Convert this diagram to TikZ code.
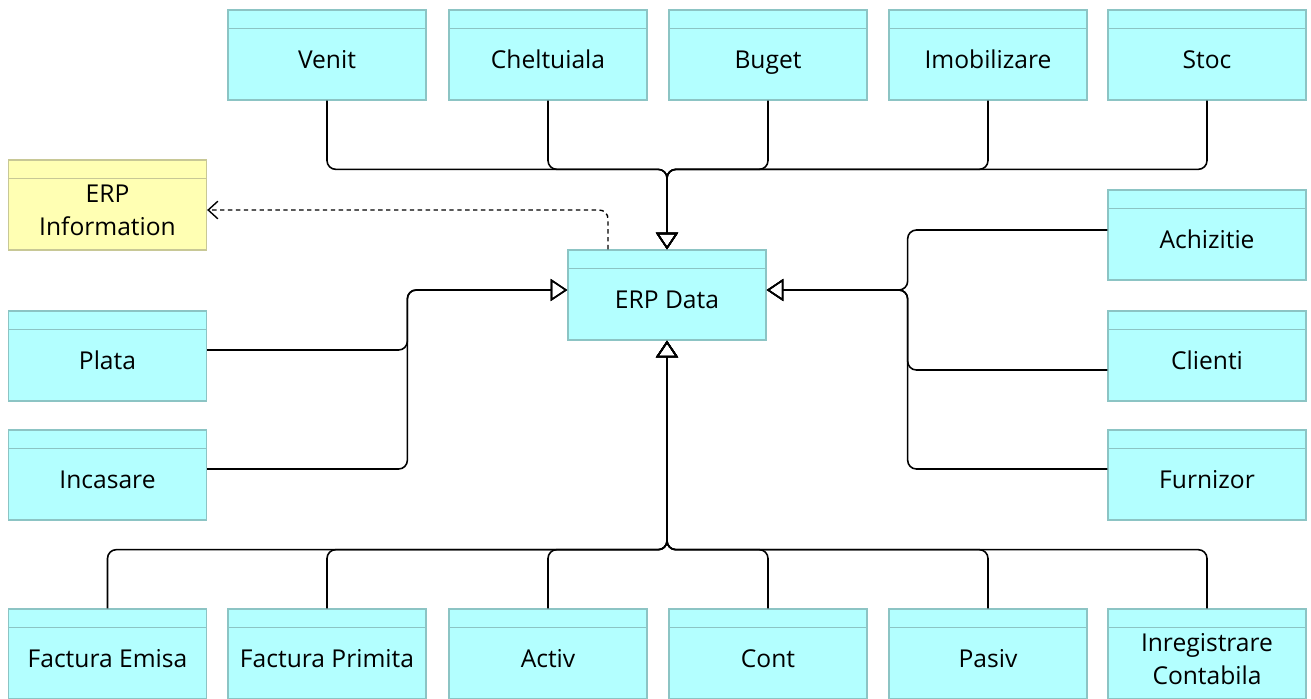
\documentclass[tikz,border=0pt]{standalone}
\usepackage{fontspec}
\setmainfont{Open Sans}
\usetikzlibrary{calc,arrows.meta}
\definecolor{boxfill}{HTML}{B3FFFF}
\definecolor{boxdraw}{HTML}{8CC4C4}
\definecolor{infofill}{HTML}{FFFFB3}
\definecolor{infodraw}{HTML}{C8C896}

\begin{document}
\begin{tikzpicture}[x=0.02cm,y=-0.02cm,
	entity/.style={draw=boxdraw,fill=boxfill,line width=0.75pt,minimum width=3.96cm,minimum height=1.8cm,inner sep=0pt,align=center,text height=1.75em,text depth=0.2em,font=\fontsize{14pt}{19pt}\selectfont},
	twoline/.style={text height=,text depth=,yshift=-3pt},
	info/.style={entity,draw=infodraw,fill=infofill},
	gen/.style={line width=0.9pt,rounded corners=5pt,-{Triangle[open,length=9.5pt,width=12.5pt]}},
	dep/.style={line width=0.8pt,dash pattern=on 2.5pt off 2pt,rounded corners=5pt,-{Straight Barb[length=5.5pt,width=10pt]}}]
		%%%%% START %%%%%
		\useasboundingbox (0,0) rectangle (1311,698);
		
		\node[entity] (venit) at (327,55) {Venit};
		\node[entity] (chelt) at (548,55) {Cheltuiala};
		\node[entity] (buget) at (768,55) {Buget};
		\node[entity] (imob) at (988,55) {Imobilizare};
		\node[entity] (stoc) at (1207,55) {Stoc};
		
		\node[info] (erpinfo) at (107.5,205) {};
		\node[twoline,font=\fontsize{14pt}{19pt}\selectfont,align=center] (erpinfotxt) at (erpinfo.center) {ERP\\Information};
		\node[entity] (erpdata) at (667,295) {ERP Data};
		
		\node[entity] (achiz) at (1207,235) {Achizitie};
		\node[entity] (clienti) at (1207,356) {Clienti};
		\node[entity] (furnizor) at (1207,475) {Furnizor};
		\node[entity] (plata) at (107.5,356) {Plata};
		\node[entity] (incasare) at (107.5,475) {Incasare};
		
		\node[entity] (femisa) at (107.5,654) {Factura Emisa};
		\node[entity] (fprimita) at (327,654) {Factura Primita};
		\node[entity] (activ) at (548,654) {Activ};
		\node[entity] (cont) at (768,654) {Cont};
		\node[entity] (pasiv) at (988,654) {Pasiv};
		\node[entity] (inreg) at (1207,654) {};
		\node[twoline,font=\fontsize{14pt}{19pt}\selectfont,align=center] (inregtxt) at (inreg.center) {Inregistrare\\Contabila};
		
		% header lines
		\foreach \n in {venit,chelt,buget,imob,stoc,erpdata,achiz,clienti,furnizor,plata,incasare,femisa,fprimita,activ,cont,pasiv,inreg}
			\draw[boxdraw,line width=0.75pt] ([yshift=-0.38cm]\n.north west) -- ([yshift=-0.38cm]\n.north east);
		\draw[infodraw,line width=0.75pt] ([yshift=-0.38cm]erpinfo.north west) -- ([yshift=-0.38cm]erpinfo.north east);
		
		\coordinate (dl) at ($(erpdata.west)+(0,-5)$);
		\coordinate (dr) at ($(erpdata.east)+(0,-5)$);
		
		\foreach \n in {venit,chelt,buget,imob,stoc}
			\draw[gen] (\n.south) |- ($(erpdata.north)+(0,-80)$) -- (erpdata.north);
		\foreach \n in {femisa,fprimita,activ,cont,pasiv,inreg}
			\draw[gen] (\n.north) |- ($(erpdata.south)+(0,209)$) -- (erpdata.south);
		
		\draw[gen] ($(plata.east)+(0,-6)$) -| ($(dl)+(-160,0)$) -- (dl);
		\draw[gen] ($(incasare.east)+(0,-6)$) -| ($(dl)+(-160,0)$) -- (dl);
		\draw[gen] ($(achiz.west)+(0,-5)$) -| ($(dr)+(141,0)$) -- (dr);
		\draw[gen] ($(clienti.west)+(0,14)$) -| ($(dr)+(141,0)$) -- (dr);
		\draw[gen] ($(furnizor.west)+(0,-6)$) -| ($(dr)+(141,0)$) -- (dr);
		
		\draw[dep] ($(erpdata.north)+(-59,0)$) |- ($(erpinfo.east)+(0,5)$);
		%%%%% END %%%%%
\end{tikzpicture}
\end{document}
